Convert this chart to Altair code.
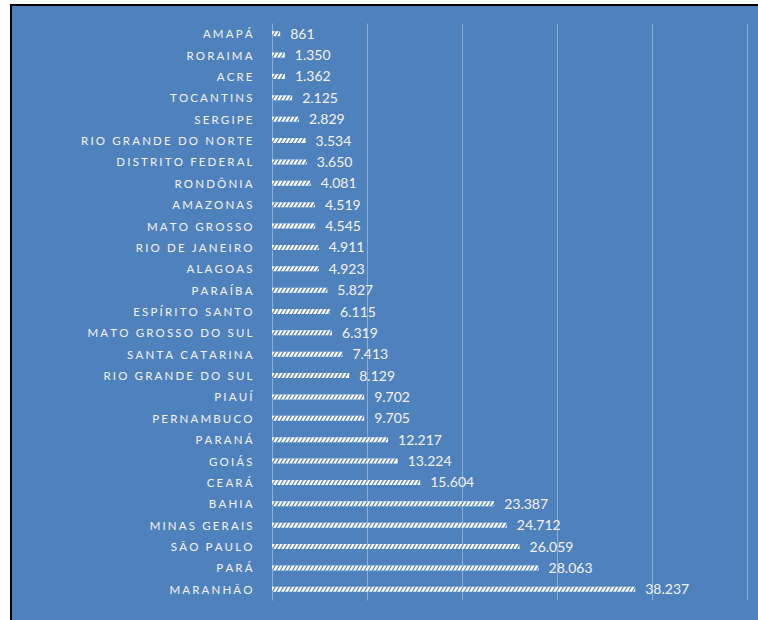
import altair as alt
import pandas as pd

states = ["AMAPÁ", "RORAIMA", "ACRE", "TOCANTINS", "SERGIPE", "RIO GRANDE DO NORTE",
          "DISTRITO FEDERAL", "RONDÔNIA", "AMAZONAS", "MATO GROSSO", "RIO DE JANEIRO",
          "ALAGOAS", "PARAÍBA", "ESPÍRITO SANTO", "MATO GROSSO DO SUL", "SANTA CATARINA",
          "RIO GRANDE DO SUL", "PIAUÍ", "PERNAMBUCO", "PARANÁ", "GOIÁS", "CEARÁ", "BAHIA",
          "MINAS GERAIS", "SÃO PAULO", "PARÁ", "MARANHÃO"]
values = [861, 1350, 1362, 2125, 2829, 3534, 3650, 4081, 4519, 4545, 4911, 4923, 5827,
          6115, 6319, 7413, 8129, 9702, 9705, 12217, 13224, 15604, 23387, 24712, 26059,
          28063, 38237]
grid_values = [0, 10000, 20000, 30000, 40000, 50000]

df = pd.DataFrame({"estado": states, "valor": values})

BLUE = "#4F81BD"
W, H = 475, 577
PL, PT, PR, PB = 272, 23, 11, 20

y_enc = alt.Y(
    "estado:N", sort=states, title=None,
    scale=alt.Scale(paddingInner=0, paddingOuter=0),
    axis=alt.Axis(domain=False, ticks=False, labelPadding=20, labelOffset=1.5,
                  labelFont="Lato", labelFontSize=11.5, labelColor="#F4F4F4",
                  labelExpr="replace(datum.label, regexp('(.)(?=.)', 'g'), '$1\u2009\u200a')"),
)
x_scale = alt.Scale(domain=[0, 50000], nice=False)
x_axis = alt.Axis(labels=False, ticks=False, domain=False, grid=True, gridColor="white",
                  gridOpacity=0.35, gridWidth=1, values=grid_values, title=None)

base = alt.Chart(df)

bars = base.mark_bar(size=5, color="white").encode(
    x=alt.X("valor:Q", scale=x_scale, axis=x_axis), y=y_enc)

stripes = base.transform_calculate(
    s="sequence(200, datum.valor, 421)"
).transform_flatten(["s"]).mark_point(
    shape="M-0.6,1L0.6,-1", filled=False, stroke=BLUE, strokeWidth=1.2, size=25, opacity=1
).encode(x=alt.X("s:Q", scale=x_scale, axis=x_axis), y=y_enc)

texts = base.transform_calculate(
    lbl="replace(format(datum.valor, ',d'), ',', '.')"
).mark_text(align="left", dx=10, dy=1, font="Lato", fontSize=14, color="#F4F4F4").encode(
    x=alt.X("valor:Q", scale=x_scale, axis=x_axis), y=y_enc, text="lbl:N")

one = alt.Data(values=[{"k": 1}])
right_edge = W + PR
bottom_edge = H + PB


def deco(x0, x1, y0, y1, color):
    return alt.Chart(one).mark_rect(color=color).encode(
        x=alt.value(x0), x2=alt.value(x1), y=alt.value(y0), y2=alt.value(y1))


decor = [
    deco(-PL, -262, -PT, bottom_edge, "white"),
    deco(-PL, right_edge, -PT, -19, "white"),
    deco(-262, -260, -19, bottom_edge, "black"),
    deco(-262, right_edge, -19, -17, "black"),
]

chart = alt.layer(*decor, bars, stripes, texts).properties(
    width=W, height=H,
    padding={"left": PL, "top": PT, "right": PR, "bottom": PB},
    autosize=alt.AutoSizeParams(type="none"),
    background=BLUE,
).configure_view(stroke=None)

chart.save("out.html", embed_options={"renderer": "svg", "actions": False})
